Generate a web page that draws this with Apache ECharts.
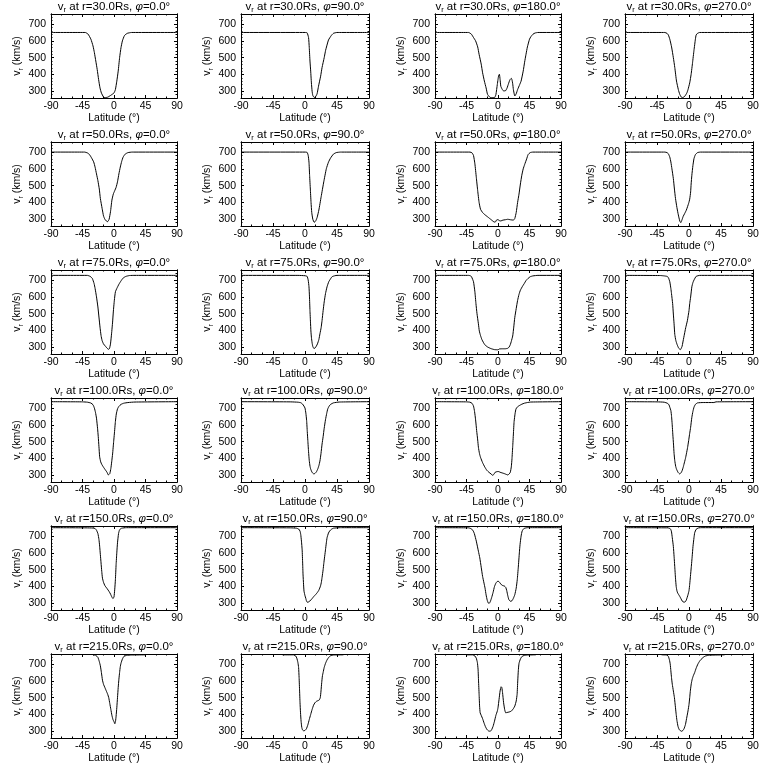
<!DOCTYPE html>
<html>
<head>
<meta charset="utf-8">
<script src="https://cdn.jsdelivr.net/npm/echarts@6/dist/echarts.min.js"></script>
<style>html,body{margin:0;padding:0;background:#fff}#c{width:768px;height:768px}</style>
</head>
<body>
<div id="c"></div>
<script>
// ---- data: [latitude (deg), v_r (km/s)] ----
const radii = [30, 50, 75, 100, 150, 215];
const phis = [0, 90, 180, 270];
const latTicks = [-90, -45, 0, 45, 90];
const vTicks = [300, 400, 500, 600, 700];

const r30_phi0 = [[-90,650],[-41,650],[-37,640],[-33,610],[-30,570],[-28,530],[-26,480],[-24,430],[-22,370],[-20,320],[-18,290],[-15,266],[-13,262],[-9,265],[-5,275],[0,290],[2,310],[4,360],[6,420],[8,500],[10,560],[12,600],[15,632],[19,645],[25,650],[90,650]];
const r30_phi90 = [[-90,650],[0,650],[3,648],[5,620],[6,560],[7,480],[8,420],[9,350],[10,300],[11,275],[13,263],[15,268],[17,285],[19,330],[22,390],[24,442],[27,500],[29,544],[33,605],[37,632],[40,645],[45,650],[90,650]];
const r30_phi180 = [[-90,650],[-42,650],[-38,640],[-35,620],[-32,600],[-29,564],[-27,520],[-24,462],[-22,410],[-19.5,361],[-17,320],[-15,282],[-12,266],[-10,262],[-5,262],[-3,280],[-1,340],[0,370],[1,395],[2,401],[3,370],[4,330],[6,312],[8,302],[11,304],[13,320],[15,345],[17,368],[19,377],[20,368],[21,345],[22,310],[24,272],[26,285],[28,310],[31,340],[33,361],[36,420],[38,473],[40,520],[42,564],[45,610],[47,625],[50,640],[53,647],[57,650],[90,650]];
const r30_phi270 = [[-90,650],[-34,650],[-31,645],[-29,635],[-27,610],[-24.5,564],[-22,500],[-20,442],[-17.6,361],[-15,310],[-13,282],[-11,266],[-9,262],[-6,270],[-3,290],[-1.4,310],[1,350],[3,401],[5,470],[7,544],[9,610],[10,635],[12,645],[15,650],[90,650]];

const r50_phi0 = [[-90,700],[-42,700],[-38,695],[-35,685],[-32,665],[-29,641],[-27,610],[-25,570],[-23,530],[-21,480],[-19.5,424],[-17,365],[-15,320],[-13,300],[-11,290],[-9,286],[-7,300],[-5,345],[-3,414],[-1,450],[1,470],[3,490],[5,523],[7,570],[9,611],[11,645],[13,670],[16,688],[20,697],[26,700],[90,700]];
const r50_phi90 = [[-90,700],[0,700],[3,698],[4.5,680],[5.6,640],[6.5,560],[7.5,480],[8.5,400],[9.5,340],[11,300],[13,282],[15,290],[17,310],[19.5,355],[22.7,434],[26.4,523],[30,601],[33,640],[36,665],[40,688],[44,697],[50,700],[90,700]];
const r50_phi180 = [[-90,700],[-40,700],[-37,695],[-35,680],[-33,630],[-31,550],[-29,470],[-27,400],[-25,360],[-22,340],[-19,328],[-15,315],[-12,305],[-9,295],[-6,285],[-4,283],[-2,296],[0,298],[2,292],[4,290],[7,295],[10,297],[14,300],[18,297],[22,295],[24,305],[26,340],[28,400],[30,450],[32,510],[34,562],[36,600],[38,625],[41,660],[43,685],[46,697],[50,700],[90,700]];
const r50_phi270 = [[-90,700],[-34,700],[-31,697],[-29,690],[-27,670],[-25.5,641],[-24,600],[-22,542],[-20.5,480],[-19,424],[-17,370],[-15,326],[-13,290],[-11.6,280],[-10,295],[-8.3,316],[-6,335],[-3.7,355],[-0.5,395],[1,420],[2.3,463],[3,510],[4,562],[5.5,620],[7,661],[9,685],[12,697],[16,700],[90,700]];

const r75_phi0 = [[-90,728],[-38,728],[-34,722],[-31,710],[-28.5,680],[-27,650],[-25,600],[-23,540],[-21.5,480],[-20,420],[-18.5,370],[-17,340],[-15,320],[-12,305],[-10,295],[-8,288],[-6.5,292],[-5,320],[-3.5,380],[-2,450],[-1,510],[0.5,580],[2,630],[4,650],[7,675],[10,695],[13,712],[17,722],[22,727],[30,728],[90,728]];
const r75_phi90 = [[-90,728],[-10,728],[0,726],[3,722],[4.5,700],[5.6,660],[6.3,600],[7,518],[7.7,450],[8.3,397],[9,360],[10,326],[11,305],[12.5,293],[14,295],[15.8,306],[17.5,320],[19.5,346],[21,380],[22.7,417],[24,460],[25.5,518],[27,570],[28.8,619],[31,660],[33.4,690],[36,708],[38,720],[42,726],[45,728],[90,728]];
const r75_phi180 = [[-90,728],[-42,728],[-39,725],[-37.6,718],[-35,690],[-33,630],[-31.5,560],[-30,500],[-28,440],[-26.7,397],[-25,370],[-23,346],[-21,330],[-19,316],[-15,302],[-10,292],[-5,286],[0,285],[2,290],[6,291],[10,291],[14,294],[16,302],[17.6,316],[19,335],[21,367],[22.5,420],[24,478],[26,530],[28,579],[30,615],[32,640],[35,663],[37.6,680],[40,697],[43,710],[46,720],[50,725],[57,728],[90,728]];
const r75_phi270 = [[-90,728],[-40,727],[-35,725],[-31,722],[-29,715],[-27,690],[-25.5,650],[-24.6,619],[-23,560],[-22,498],[-21,440],[-20,377],[-18.5,340],[-16.7,316],[-14.4,294],[-12,286],[-10.5,298],[-9.7,306],[-7.4,357],[-4.6,417],[-2.3,458],[0,518],[1,560],[2.3,599],[4,660],[5.5,685],[7,700],[10,722],[15,728],[90,728]];

const r100_phi0 = [[-90,738],[-45,737],[-38,735],[-33,730],[-30,720],[-28,700],[-26.5,675],[-25,640],[-23.5,580],[-22.5,530],[-21.5,470],[-20.5,410],[-19,380],[-17.5,365],[-15,348],[-12,330],[-10,318],[-8,302],[-6,310],[-4.5,340],[-3.3,380],[-2,427],[-0.5,500],[0.5,546],[2,620],[3.3,665],[5,695],[7,710],[10,722],[14,729],[20,733],[30,736],[90,738]];
const r100_phi90 = [[-90,738],[-20,737],[-10,735],[-6,732],[-3.7,725],[-1.5,712],[0,700],[1.2,670],[2.3,626],[3.2,560],[4,506],[5,440],[6,387],[7,355],[8,337],[10,317],[12.5,308],[14,311],[16,320],[18,338],[19.5,357],[21,385],[22.5,430],[24,486],[25.5,530],[27,580],[28.8,630],[30.5,668],[32,695],[34,712],[36,722],[40,731],[48,736],[90,738]];
const r100_phi180 = [[-90,738],[-45,737],[-40,735],[-37,728],[-35,712],[-33.5,680],[-32,630],[-30.5,566],[-29,510],[-28,467],[-26.5,430],[-25,407],[-22,375],[-19,350],[-16,330],[-13,318],[-10,308],[-7.6,300],[-6,305],[-4,318],[-1,322],[1,322],[3,318],[6,314],[9,310],[12,305],[14,302],[16,308],[17.6,318],[19,350],[20,400],[21,470],[22,546],[23,620],[24.5,670],[25.7,695],[28,708],[30.5,715],[34,723],[37.6,729],[42,733],[47,736],[90,738]];
const r100_phi270 = [[-90,738],[-45,737],[-35,735],[-30,728],[-28,718],[-27,705],[-25.5,685],[-24.5,650],[-23.7,606],[-22.7,540],[-21.8,486],[-21,430],[-20,387],[-18.8,355],[-17.6,337],[-15.3,317],[-13,308],[-11,316],[-9.7,327],[-8,350],[-7,367],[-5,400],[-3.7,427],[-2,465],[-0.5,506],[1,550],[2.3,586],[4,645],[5.5,680],[7,705],[9,722],[12,731],[20,733],[35,733],[38,737],[90,738]];

const r150_phi0 = [[-90,750],[-40,749],[-30,748],[-27,745],[-25,735],[-23,715],[-21.5,680],[-20.5,640],[-19.5,590],[-18.5,540],[-17.5,490],[-16.5,450],[-15,425],[-13,405],[-10,388],[-7,370],[-5,355],[-3,337],[-1.5,328],[0,338],[1,380],[2,440],[3,530],[4,600],[5,660],[6.5,715],[8,738],[11,747],[18,750],[90,750]];
const r150_phi90 = [[-90,750],[-20,749],[-12,747],[-9,742],[-7,730],[-6,710],[-5,670],[-4,618],[-3.3,540],[-2.8,474],[-2,410],[-1.4,372],[0,345],[1,331],[2,315],[3.2,306],[5,308],[7,314],[10,328],[12.5,341],[15,352],[17,362],[19.5,378],[21.8,403],[23,425],[24,454],[25.5,500],[26.4,536],[28.8,618],[30,660],[31,690],[33,718],[34.8,731],[37,740],[40,747],[50,750],[90,750]];
const r150_phi180 = [[-90,750],[-42,749],[-39,745],[-36,735],[-33.8,715],[-31,670],[-28,610],[-26,570],[-24,515],[-22,460],[-20,420],[-18.5,390],[-17,350],[-15.5,320],[-14,302],[-12.5,300],[-11,310],[-9,335],[-7,365],[-5,400],[-3,420],[-1,430],[1,430],[3,420],[5,410],[7,405],[9,403],[11,395],[12.5,375],[14,345],[15.5,322],[17.6,312],[20,315],[22,330],[24,351],[26,390],[27.5,440],[29,515],[30.5,600],[31.5,650],[33,700],[34.5,730],[37,745],[42,750],[90,750]];
const r150_phi270 = [[-90,750],[-30,749],[-27,746],[-25.5,738],[-24.6,725],[-23.5,690],[-22,638],[-21,580],[-20,515],[-19,450],[-18,400],[-17,375],[-16,362],[-13,341],[-11,325],[-9.7,314],[-7,306],[-5,310],[-3.7,320],[-1.4,351],[0,375],[1,413],[2,460],[3.2,515],[4.5,580],[5.6,638],[7,690],[8,720],[10,740],[13,748],[17,750],[90,750]];

const r215_phi0 = [[-30,755],[-26,752],[-23,740],[-21,715],[-19.5,690],[-18,650],[-16.5,605],[-15,580],[-13,560],[-11,540],[-9,520],[-7.5,500],[-6,465],[-4.5,430],[-3,395],[-1.5,370],[0,357],[1.2,345],[2.2,360],[3,390],[4,440],[5,500],[6,560],[7,610],[8,650],[9,685],[10,705],[12,730],[14,745],[18,752],[25,754],[45,755]];
const r215_phi90 = [[-31.5,755],[-16,755],[-13,748],[-11.5,735],[-10,710],[-9,680],[-8.3,620],[-7.6,540],[-7,470],[-6.3,410],[-5.5,360],[-4.6,325],[-3.5,308],[-2,303],[0,305],[2,315],[4,338],[6,370],[8,400],[10,430],[12,455],[14,470],[16,478],[18,482],[20,486],[21.5,500],[22.5,540],[23.5,590],[24.5,630],[25.5,650],[27,680],[28.8,704],[31,725],[33.4,740],[36,750],[40,754],[54,755]];
const r215_phi180 = [[-45.7,755],[-36,755],[-33,748],[-31,735],[-29.5,710],[-28.5,670],[-27.8,600],[-27,520],[-26.3,450],[-25.5,410],[-24,395],[-22,375],[-20,350],[-18,328],[-16,312],[-13.5,302],[-11,300],[-9,310],[-7,330],[-5,360],[-3,395],[-1,420],[0,440],[1.5,490],[3,540],[4.5,565],[5.5,560],[6.5,530],[8,470],[9.5,430],[11,410],[13,412],[16,415],[19,420],[22,435],[24,450],[26,480],[27.3,520],[28.2,600],[29,660],[30,704],[32,730],[34,744],[37,751],[42,754],[54,755]];
const r215_phi270 = [[-38.5,755],[-31,754],[-29,745],[-27.5,725],[-26.4,700],[-25.5,660],[-24.6,620],[-23.5,580],[-22,540],[-20.5,500],[-19,440],[-18,400],[-17,365],[-15.5,330],[-14,312],[-12,303],[-10.7,300],[-8.5,305],[-7,315],[-5,340],[-3,385],[-1.4,421],[0,460],[1,500],[2,545],[3.2,583],[4.5,610],[6,630],[8,650],[10,675],[12.5,700],[15,718],[17,728],[20,740],[23,748],[28.8,753],[50,755]];

const panelData = [
  [r30_phi0, r30_phi90, r30_phi180, r30_phi270],
  [r50_phi0, r50_phi90, r50_phi180, r50_phi270],
  [r75_phi0, r75_phi90, r75_phi180, r75_phi270],
  [r100_phi0, r100_phi90, r100_phi180, r100_phi270],
  [r150_phi0, r150_phi90, r150_phi180, r150_phi270],
  [r215_phi0, r215_phi90, r215_phi180, r215_phi270]
];

// ---- layout ----
const FONT = 'Liberation Sans, DejaVu Sans, sans-serif';
const colLeft = [51, 241, 435, 625];
const colWidth = [126, 128, 126, 128];
const rowTop0 = 14, rowPitch = 128, boxH = 84;
const yMin = 260, yMax = 760;

const rich = {
  n: {fontFamily: FONT, fontSize: 11.5, fontWeight: 'normal', color: '#000', lineHeight: 14, verticalAlign: 'middle'},
  s: {fontFamily: FONT, fontSize: 7.5, fontWeight: 'normal', color: '#000', lineHeight: 14, verticalAlign: 'bottom'},
  p: {fontFamily: FONT, fontSize: 11.5, fontWeight: 'normal', color: '#000', lineHeight: 14, verticalAlign: 'middle', fontStyle: 'italic'}
};
const richName = {
  n: {fontFamily: FONT, fontSize: 10.5, fontWeight: 'normal', color: '#000', lineHeight: 14, verticalAlign: 'middle'},
  s: {fontFamily: FONT, fontSize: 7, fontWeight: 'normal', color: '#000', lineHeight: 14, verticalAlign: 'bottom'}
};
const black = {color: '#000', width: 1};

const grids = [], xAxes = [], yAxes = [], titles = [], series = [];
radii.forEach((r, ri) => {
  phis.forEach((phi, ci) => {
    const g = ri * 4 + ci;
    const left = colLeft[ci], width = colWidth[ci];
    const top = rowTop0 + ri * rowPitch;
    grids.push({left: left, top: top, width: width, height: boxH, containLabel: false});
    titles.push({
      text: '{n|v}{s|r}{n| at r=' + r.toFixed(1) + 'Rs, }{p|φ}{n|=' + phi.toFixed(1) + '°}',
      left: left + width / 2, top: top - 14, textAlign: 'center', padding: 0,
      textStyle: {fontWeight: 'normal', fontFamily: FONT, rich: rich}
    });
    const xBase = {
      gridIndex: g, type: 'value', min: -90, max: 90, interval: 45,
      axisLine: {show: true, onZero: false, lineStyle: black},
      axisTick: {show: true, inside: true, length: 3, lineStyle: black},
      minorTick: {show: true, splitNumber: 3, length: 1.5, lineStyle: black},
      splitLine: {show: false}, minorSplitLine: {show: false}
    };
    xAxes.push(Object.assign({}, xBase, {
      position: 'bottom',
      axisLabel: {show: true, margin: 3, fontSize: 10.5, color: '#000', fontFamily: FONT, customValues: latTicks},
      name: 'Latitude (°)', nameLocation: 'middle', nameGap: 14,
      nameTextStyle: {fontFamily: FONT, fontSize: 10.5, color: '#000'}
    }));
    xAxes.push(Object.assign({}, xBase, {position: 'top', axisLabel: {show: false}}));
    const yBase = {
      gridIndex: g, type: 'value', min: yMin, max: yMax, interval: 20,
      axisLine: {show: true, onZero: false, lineStyle: black},
      splitLine: {show: false}, minorSplitLine: {show: false}
    };
    yAxes.push(Object.assign({}, yBase, {position: 'left',
      axisTick: {show: true, inside: true, length: 1.5, lineStyle: black},
      axisLabel: {show: false}}));
    yAxes.push(Object.assign({}, yBase, {position: 'left',
      axisTick: {show: true, inside: true, length: 3, lineStyle: black, customValues: vTicks},
      axisLabel: {show: true, margin: 5, fontSize: 10.5, color: '#000', fontFamily: FONT, customValues: vTicks},
      name: '{n|v}{s|r}{n| (km/s)}', nameLocation: 'middle', nameGap: 23, nameRotate: 90,
      nameTextStyle: {rich: richName}}));
    yAxes.push(Object.assign({}, yBase, {position: 'right',
      axisTick: {show: true, inside: true, length: 1.5, lineStyle: black},
      axisLabel: {show: false}}));
    yAxes.push(Object.assign({}, yBase, {position: 'right',
      axisTick: {show: true, inside: true, length: 3, lineStyle: black, customValues: vTicks},
      axisLabel: {show: false}}));
    series.push({
      type: 'line', xAxisIndex: 2 * g, yAxisIndex: 4 * g + 1,
      data: panelData[ri][ci], showSymbol: false, symbol: 'none',
      smooth: 0.15, lineStyle: {color: '#000', width: 1}, silent: true, clip: true
    });
  });
});

const chart = echarts.init(document.getElementById('c'), null, {renderer: 'canvas'});
chart.setOption({
  animation: false,
  backgroundColor: '#fff',
  title: titles,
  grid: grids,
  xAxis: xAxes,
  yAxis: yAxes,
  series: series
});
</script>
</body>
</html>
